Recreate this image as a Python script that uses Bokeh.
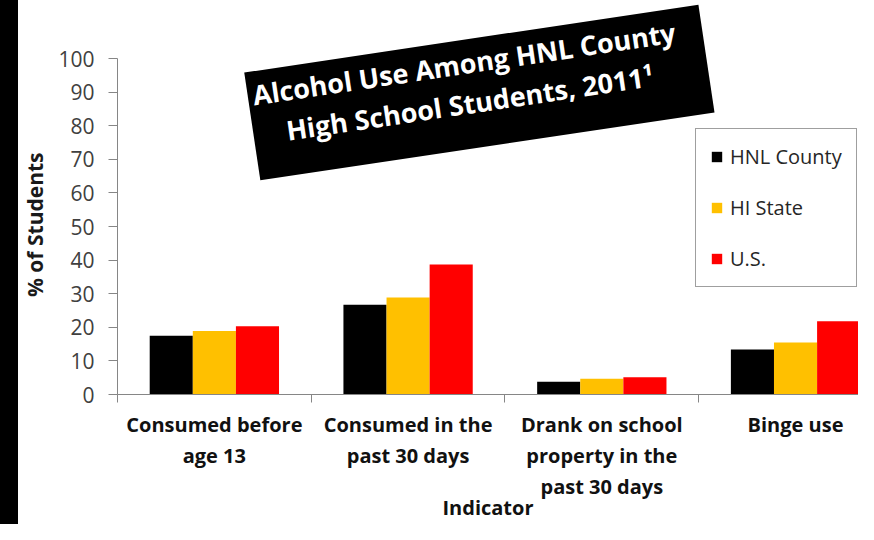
import numpy as np
from bokeh.plotting import figure
from bokeh.layouts import row
from bokeh.models import ColumnDataSource, Range1d, FixedTicker, Label, Div
from bokeh.embed import file_html
from bokeh.resources import INLINE

# ---- data ----
categories = ["Consumed before\nage 13", "Consumed in the\npast 30 days",
              "Drank on school\nproperty in the\npast 30 days", "Binge use"]
series = ["HNL County", "HI State", "U.S."]
hnl_county = [17.5, 26.7, 3.8, 13.4]
hi_state = [18.9, 28.9, 4.7, 15.5]
us = [20.3, 38.7, 5.1, 21.8]
colors = ["#000000", "#FFC000", "#FF0000"]
y_ticks = list(range(0, 101, 10))
title_text = "Alcohol Use Among HNL County\nHigh School Students, 2011\u00b9"
y_title = "% of Students"
x_title = "Indicator"

FONT = "Open Sans"
GRAY = "#868686"

p = figure(width=840, height=524, output_backend="svg", toolbar_location=None,
           x_range=Range1d(-0.5, 3.325), y_range=Range1d(0, 117.3),
           min_border_left=98, min_border_right=0, min_border_top=0,
           min_border_bottom=128, title=None)
p.xgrid.visible = False
p.ygrid.visible = False
p.outline_line_color = None
p.background_fill_color = "white"
p.border_fill_color = "white"

idx = np.arange(len(categories))
w = 0.2225
for k, (name, vals) in enumerate(zip(series, [hnl_county, hi_state, us])):
    src = ColumnDataSource(dict(x=idx + (k - 1) * w, top=vals))
    p.vbar(x="x", top="top", width=w, bottom=0, source=src,
           fill_color=colors[k], line_color=None, legend_label=name)

# y axis
yax = p.yaxis[0]
yax.ticker = FixedTicker(ticks=y_ticks, minor_ticks=[])
yax.bounds = (0, 100)
yax.axis_line_color = GRAY
yax.major_tick_line_color = GRAY
yax.major_tick_out = 9
yax.major_tick_in = 0
yax.minor_tick_line_color = None
yax.major_label_text_font = FONT
yax.major_label_text_font_size = "21px"
yax.major_label_text_color = "#404040"
yax.major_label_standoff = 14
# trailing no-break spaces keep the title centred on the 0-100 span of the axis
yax.axis_label = y_title + "\u00a0" * 10
yax.axis_label_text_font = FONT
yax.axis_label_text_font_style = "bold"
yax.axis_label_text_font_size = "21px"
yax.axis_label_text_color = "#1a1a1a"
yax.axis_label_standoff = 6

# x axis
xax = p.xaxis[0]
xax.ticker = FixedTicker(ticks=list(idx), minor_ticks=[i - 0.5 for i in range(len(categories) + 1)])
xax.major_label_overrides = {int(i): c for i, c in zip(idx, categories)}
xax.major_tick_line_color = None
xax.major_tick_out = 0
xax.major_tick_in = 0
xax.minor_tick_line_color = GRAY
xax.minor_tick_out = 8
xax.minor_tick_in = 0
xax.axis_line_color = GRAY
xax.major_label_text_font = FONT
xax.major_label_text_font_style = "bold"
xax.major_label_text_font_size = "20px"
xax.major_label_text_color = "#111111"
xax.major_label_text_line_height = 1.16
xax.major_label_standoff = 8
xax.axis_label = x_title
xax.axis_label_text_font = FONT
xax.axis_label_text_font_style = "bold"
xax.axis_label_text_font_size = "20px"
xax.axis_label_text_color = "#111111"
xax.axis_label_standoff = -9

# title box
title = Label(x=1.368, y=89.9, text=title_text, angle=8.5, angle_units="deg",
              text_align="center", text_baseline="middle", text_font=FONT,
              text_font_style="bold", text_font_size="27px", text_color="white",
              text_line_height=1.08, background_fill_color="black",
              background_fill_alpha=1.0, padding=(5, 27, 5, 27))
p.add_layout(title)

# legend
leg = p.legend[0]
leg.location = (578, 107)
leg.margin = 0
leg.label_text_font = FONT
leg.label_text_font_size = "20px"
leg.label_text_color = "#262626"
leg.glyph_width = 13
leg.glyph_height = 13
leg.label_height = 21
leg.spacing = 24
leg.padding = 14
leg.label_standoff = 7
leg.border_line_color = "#404040"
leg.border_line_width = 1
leg.background_fill_color = "white"

# thick black slide frame line at the left edge
bar = Div(text="", width=18, height=524, margin=0,
          styles={"background-color": "black"})

layout = row(bar, p, spacing=0)
open("out.html", "w").write(file_html(layout, INLINE))
